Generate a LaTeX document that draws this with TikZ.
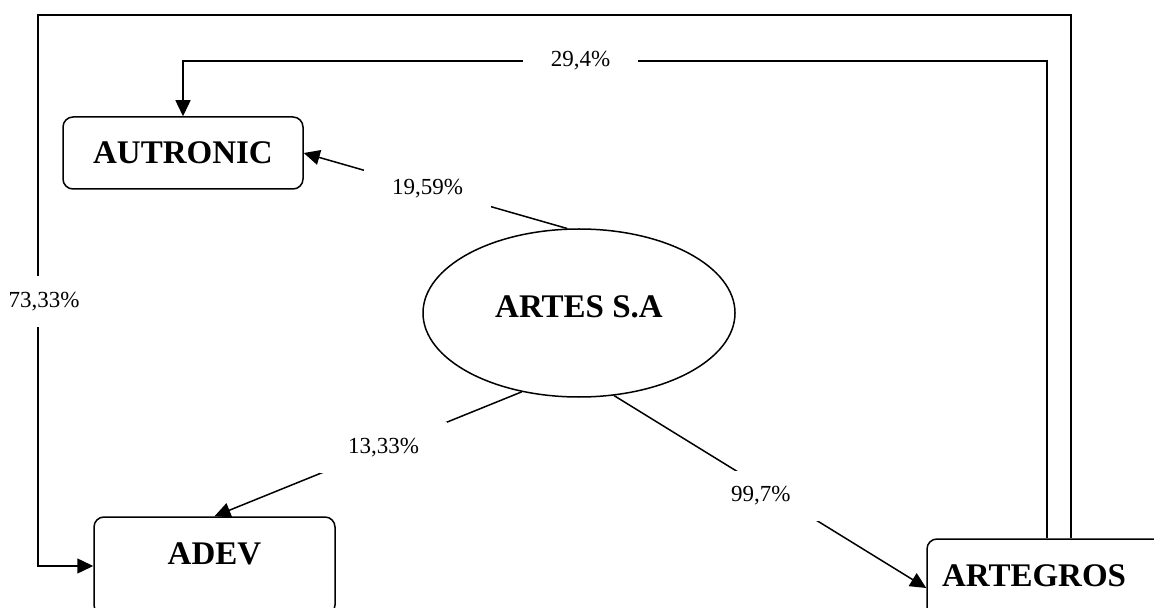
\documentclass[tikz,border=0pt]{standalone}
\usepackage{fontspec}
\setmainfont{Liberation Serif}
\usepackage{tikz}
\usetikzlibrary{arrows.meta,shapes.geometric}

\begin{document}
\begin{tikzpicture}[x=0.5pt,y=-0.5pt,
	company/.style={draw,rounded corners=5pt,inner sep=0pt,text height=23.5pt,line width=0.75pt,font=\fontsize{16.5}{20}\selectfont\bfseries},
	pct/.style={fill=white,inner xsep=14pt,inner ysep=8pt,font=\fontsize{11.5}{14}\selectfont},
	link/.style={line width=0.75pt,-{Triangle[length=8pt,width=7.5pt]}}]
	\useasboundingbox (0,0) rectangle (1154,608);
	%	holding in the middle, the three companies round it
	\node (artes) at(579,313)[shape=ellipse,draw,line width=0.75pt,minimum width=156pt,minimum height=84pt,inner sep=0pt,text depth=6pt,font=\fontsize{16.5}{20}\selectfont\bfseries]{ARTES S.A};
	\node (autronic) at(183,153)[company,minimum width=120pt,text depth=12.5pt]{AUTRONIC};
	\node (adev) at(214.5,566)[company,minimum width=120.5pt,text depth=25.5pt]{ADEV};
	\node (artegros) at(1051,588)[company,text width=109pt,inner xsep=7.5pt,align=left,text depth=25.5pt]{ARTEGROS};
	
	\draw[link] (artes.98) -- node[pct,pos=0.53]{19,59\%} (autronic.east);
	\draw[link] (artes.-126) -- node[pct,pos=0.45]{13,33\%} (adev.north);
	\draw[link] (artes.-67) -- node[pct,pos=0.47,yshift=-5pt]{99,7\%} (artegros.west);
	
	%	loops round the outside
	\coordinate (innerNE) at(1047,61);
	\coordinate (outerNE) at(1071,15);
	\coordinate (outerNW) at(38,15);
	\draw[link] (artegros.north -| innerNE) -- (innerNE) -- node[pct,pos=0.54]{29,4\%} (innerNE -| autronic.north) -- (autronic.north);
	\draw[link] (artegros.north -| outerNE) -- (outerNE) -- (outerNW) -- node[pct,pos=0.52,xshift=3pt]{73,33\%} (outerNW |- adev.west) -- (adev.west);
\end{tikzpicture}
\end{document}
